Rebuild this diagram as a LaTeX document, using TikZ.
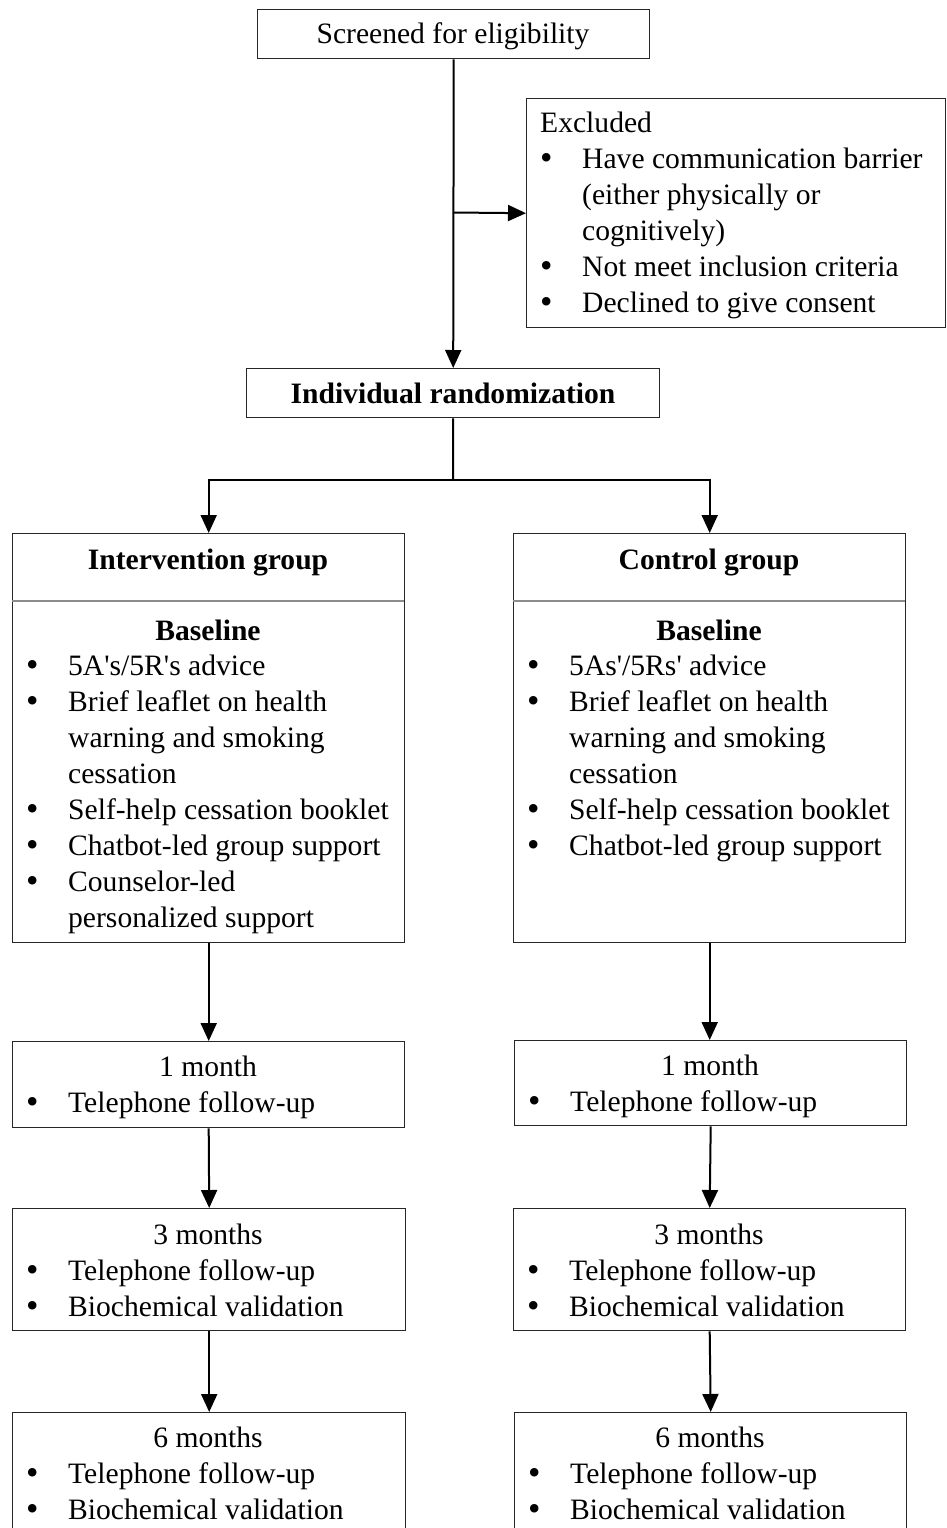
\documentclass[tikz,border=0pt]{standalone}
\usepackage{fontspec}
\setmainfont{Liberation Serif}
\usetikzlibrary{arrows.meta}
\newcommand\bl[1]{\par\noindent\makebox[42pt][l]{\raisebox{-1pt}{\scalebox{1.2}{\textbullet}}}#1}
\newcommand\cl[1]{\par\noindent\hspace*{42pt}#1}
\newcommand\apo{\textquotesingle}
\begin{document}
\begin{tikzpicture}[x=1pt,y=-1pt,
  boxs/.style={draw=black!85, line width=1.4pt, inner sep=0pt, anchor=north west},
  txt/.style={inner sep=0pt, font=\fontsize{29.6}{36}\selectfont},
  ctr/.style={txt, anchor=base},
  lst/.style={txt, anchor=base west},
  arr/.style={line width=2pt, draw=black, -{Triangle[length=18pt,width=16pt]}},
  divl/.style={draw=black!45, line width=1.3pt}]
\useasboundingbox (0,0) rectangle (946,1528);
\clip (0,0) rectangle (946,1528);
% boxes
\node[boxs, minimum width=392pt, minimum height=49pt] (scr) at (257,9) {};
\node[boxs, minimum width=419pt, minimum height=229pt] (exc) at (526,98) {};
\node[boxs, minimum width=413pt, minimum height=49pt] (rnd) at (246,368) {};
\node[boxs, minimum width=392pt, minimum height=409pt] (int) at (12,533) {};
\node[boxs, minimum width=392pt, minimum height=409pt] (ctl) at (513,533) {};
\node[boxs, minimum width=392pt, minimum height=86pt] (m1l) at (12,1041) {};
\node[boxs, minimum width=392pt, minimum height=85pt] (m1r) at (514,1040) {};
\node[boxs, minimum width=393pt, minimum height=122pt] (m3l) at (12,1208) {};
\node[boxs, minimum width=392pt, minimum height=122pt] (m3r) at (513,1208) {};
\node[boxs, minimum width=393pt, minimum height=130pt] (m6l) at (12,1412) {};
\node[boxs, minimum width=392pt, minimum height=130pt] (m6r) at (514,1412) {};
% dividers
\draw[divl] (12,601) -- (404,601);
\draw[divl] (513,601) -- (905,601);
% texts
\node[ctr] (scrT) at (453,44) {Screened for eligibility};
\node[lst] (excT) at (540,132) {\parbox[t]{400pt}{Excluded
  \bl{Have communication barrier}
  \cl{(either physically or}
  \cl{cognitively)}
  \bl{Not meet inclusion criteria}
  \bl{Declined to give consent}}};
\node[ctr, font=\fontsize{29.6}{36}\selectfont\bfseries] (rndT) at (453,403) {Individual randomization};
\node[ctr, font=\fontsize{29.6}{36}\selectfont\bfseries] (intH) at (208,569) {Intervention group};
\node[ctr, font=\fontsize{29.6}{36}\selectfont\bfseries] (ctlH) at (709,569) {Control group};
\node[ctr, font=\fontsize{29.6}{36}\selectfont\bfseries] (intB) at (208,640) {Baseline};
\node[ctr, font=\fontsize{29.6}{36}\selectfont\bfseries] (ctlB) at (709,640) {Baseline};
\node[lst] (intL) at (26,675) {\parbox[t]{380pt}{%
  \bl{5A\apo s/5R\apo s advice}
  \bl{Brief leaflet on health}
  \cl{warning and smoking}
  \cl{cessation}
  \bl{Self-help cessation booklet}
  \bl{Chatbot-led group support}
  \bl{Counselor-led}
  \cl{personalized support}}};
\node[lst] (ctlL) at (527,675) {\parbox[t]{380pt}{%
  \bl{5As\apo/5Rs\apo{} advice}
  \bl{Brief leaflet on health}
  \cl{warning and smoking}
  \cl{cessation}
  \bl{Self-help cessation booklet}
  \bl{Chatbot-led group support}}};
\node[ctr] (m1lH) at (208,1076) {1 month};
\node[lst] (m1lL) at (26,1112) {\parbox[t]{380pt}{\bl{Telephone follow-up}}};
\node[ctr] (m1rH) at (710,1075) {1 month};
\node[lst] (m1rL) at (528,1111) {\parbox[t]{380pt}{\bl{Telephone follow-up}}};
\node[ctr] (m3lH) at (208,1244) {3 months};
\node[lst] (m3lL) at (26,1280) {\parbox[t]{380pt}{\bl{Telephone follow-up}\bl{Biochemical validation}}};
\node[ctr] (m3rH) at (709,1244) {3 months};
\node[lst] (m3rL) at (527,1280) {\parbox[t]{380pt}{\bl{Telephone follow-up}\bl{Biochemical validation}}};
\node[ctr] (m6lH) at (208,1447) {6 months};
\node[lst] (m6lL) at (26,1483) {\parbox[t]{380pt}{\bl{Telephone follow-up}\bl{Biochemical validation}}};
\node[ctr] (m6rH) at (710,1447) {6 months};
\node[lst] (m6rL) at (528,1483) {\parbox[t]{380pt}{\bl{Telephone follow-up}\bl{Biochemical validation}}};
% connectors
\coordinate (br) at (453,212.5);
\draw[arr] (scr.south) -- (rnd.north);
\draw[arr] (br) -- (exc.west);
\coordinate (split) at (453,480);
\draw[line width=2pt] (rnd.south) -- (split);
\draw[arr] (split) -| (int.north);
\draw[arr] (split) -| (ctl.north);
\draw[arr] (int.south) -- (m1l.north);
\draw[arr] (ctl.south) -- (ctl.south |- m1r.north);
\draw[arr] (m1l.south) -- (m3l.north);
\draw[arr] (m1r.south) -- (m3r.north);
\draw[arr] (m3l.south) -- (m6l.north);
\draw[arr] (m3r.south) -- (m6r.north);
\end{tikzpicture}
\end{document}
